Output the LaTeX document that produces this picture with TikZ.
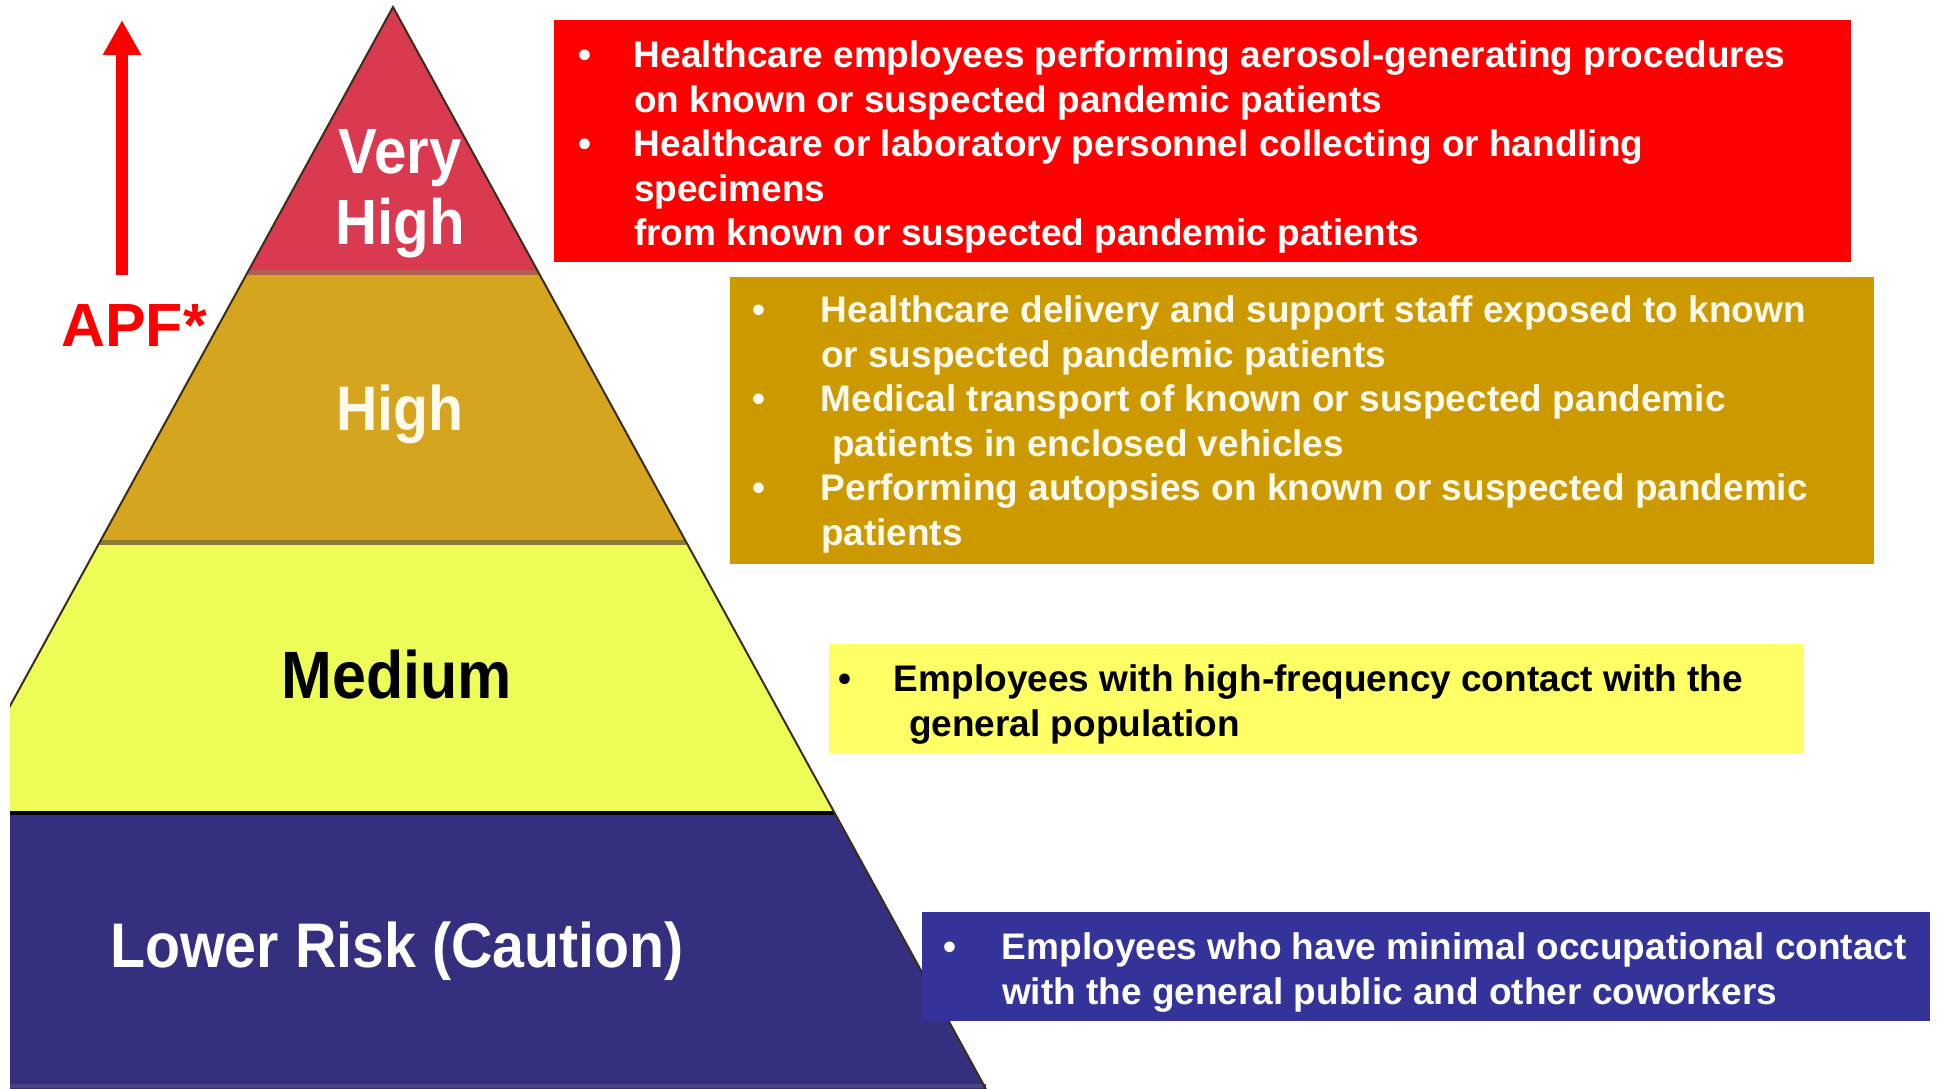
\documentclass[tikz,border=0pt]{standalone}
\usepackage{fontspec}
\setmainfont{Liberation Sans}
\newfontfamily\tierfont{Liberation Sans}[FakeStretch=0.91]
\usepackage{xcolor}
\usetikzlibrary{arrows.meta,positioning}
\definecolor{apfRed}{HTML}{FF0000}
\definecolor{boxRed}{HTML}{FF0000}
\definecolor{boxGold}{HTML}{CC9900}
\definecolor{boxYellow}{HTML}{FFFF66}
\definecolor{boxBlue}{HTML}{333399}
\definecolor{tierRed}{HTML}{DA3A50}
\definecolor{tierGold}{HTML}{D6A520}
\definecolor{tierLime}{HTML}{EEFC58}
\definecolor{tierBlue}{HTML}{352F80}
\definecolor{seamRose}{HTML}{B06050}
\definecolor{seamOlive}{HTML}{8B7A30}
\definecolor{tierEdge}{HTML}{3A2E1A}
\definecolor{cream}{HTML}{FFFAEB}
\newcommand{\riskbullet}[1]{\makebox[#1][l]{\textbullet}}
\newcommand{\riskgap}[1]{\hspace*{#1}}

\begin{document}
\begin{tikzpicture}[
    x=1pt,y=-1pt,
    >=Latex,
    box/.style={rectangle,inner sep=0pt,outer sep=0pt,anchor=north west},
    boxtext/.style={anchor=north west,inner sep=0pt,outer sep=0pt,align=left,
                    font=\fontsize{37}{44.5}\selectfont\bfseries},
    tier/.style={inner sep=0pt,outer sep=0pt,align=center},
    seam/.style={line width=5pt}
  ]
  \useasboundingbox (0,0) rectangle (1939,1089);

  % pyramid corners
  \coordinate (apex) at (393,7);
  \coordinate (vl) at (247.8,272);  \coordinate (vr) at (538.2,272);
  \coordinate (hl) at (99.8,542);   \coordinate (hr) at (686.2,542);
  \coordinate (ml) at (-48.1,812);  \coordinate (mr) at (834.1,812);
  \coordinate (bl) at (-199.9,1089);\coordinate (br) at (985.9,1089);

  \begin{scope}
    \clip (10,0) rectangle (1939,1089);
    \fill[tierRed]  (apex) -- (vr) -- (vl) -- cycle;
    \fill[tierGold] (vl) -- (vr) -- (hr) -- (hl) -- cycle;
    \fill[tierLime] (hl) -- (hr) -- (mr) -- (ml) -- cycle;
    \fill[tierBlue] (ml) -- (mr) -- (br) -- (bl) -- cycle;
    \draw[seam,seamRose]  (vl) -- (vr);
    \draw[seam,seamOlive] (hl) -- (hr);
    \draw[line width=4pt,black] ([yshift=-1pt]ml) -- ([yshift=-1pt]mr);
    \draw[line width=4pt,tierBlue!75!gray] ([yshift=3pt]bl) -- ([yshift=3pt]br);
    \draw[line width=2pt,tierEdge] (bl) -- (apex) -- (br);
  \end{scope}

  \node[tier,anchor=north,text=white,
        font=\tierfont\bfseries\fontsize{64}{71}\selectfont] (veryhigh) at (400,129) {Very\\High};
  \node[tier,anchor=base,text=cream,
        font=\tierfont\bfseries\fontsize{63}{63}\selectfont] (high) at (400,430) {High};
  \node[tier,anchor=base,text=black,
        font=\tierfont\bfseries\fontsize{67}{67}\selectfont] (medium) at (397,698) {Medium};
  \node[tier,anchor=base,text=white,
        font=\tierfont\bfseries\fontsize{63}{63}\selectfont] (lowrisk) at (397,967) {Lower Risk (Caution)};

  % APF arrow
  \coordinate (arrowfoot) at (122,275);
  \coordinate (arrowtip) at (122,20);
  \draw[-{Triangle[length=35pt,width=36pt]},line width=12pt,apfRed] (arrowfoot) -- (arrowtip);
  \node[anchor=base west,inner sep=0pt,text=apfRed,
        font=\fontsize{61}{61}\selectfont\bfseries] (apf) at (61,346) {APF*};

  % job classes
  \node[box,fill=boxRed,minimum width=1297pt,minimum height=242pt] (vhbox) at (554,20) {};
  \node[boxtext,text=white] (vhtext) at (578,41)
    {\riskbullet{56pt}Healthcare employees performing aerosol-generating procedures\\
     \riskgap{56pt}on known or suspected pandemic patients\\
     \riskbullet{56pt}Healthcare or laboratory personnel collecting or handling\\
     \riskgap{56pt}specimens\\
     \riskgap{56pt}from known or suspected pandemic patients};

  \node[box,fill=boxGold,minimum width=1144pt,minimum height=287pt] (hbox) at (730,277) {};
  \node[boxtext,text=cream] (htext) at (752,296)
    {\riskbullet{69pt}Healthcare delivery and support staff exposed to known\\
     \riskgap{69pt}or suspected pandemic patients\\
     \riskbullet{69pt}Medical transport of known or suspected pandemic\\
     \riskgap{80pt}patients in enclosed vehicles\\
     \riskbullet{69pt}Performing autopsies on known or suspected pandemic\\
     \riskgap{69pt}patients};

  \node[box,fill=boxYellow,minimum width=975pt,minimum height=109pt] (mbox) at (829,644) {};
  \node[boxtext,text=black] (mtext) at (838,665)
    {\riskbullet{56pt}Employees with high-frequency contact with the\\
     \riskgap{71pt}general population};

  \node[box,fill=boxBlue,minimum width=1008pt,minimum height=109pt] (lbox) at (922,912) {};
  \node[boxtext,text=white] (ltext) at (943,933)
    {\riskbullet{59pt}Employees who have minimal occupational contact\\
     \riskgap{59pt}with the general public and other coworkers};
\end{tikzpicture}
\end{document}
